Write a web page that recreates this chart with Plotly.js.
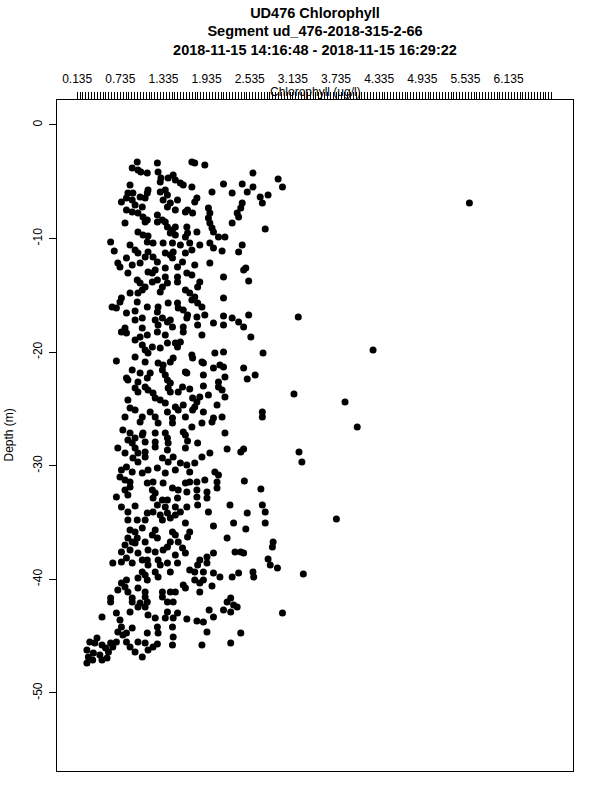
<!DOCTYPE html>
<html>
<head>
<meta charset="utf-8">
<script src="https://cdn.plot.ly/plotly-3.0.1.min.js"></script>
<style>html,body{margin:0;padding:0;background:#fff;}#chart{width:600px;height:800px;}</style>
</head>
<body>
<div id="chart"></div>
<script>
// ---- Data ----
const chlorophyll = [
// 3-10 m
0.97,0.90,0.98,1.02,1.11,1.25,1.26,1.30,1.29,1.47,1.50,1.57,1.61,1.73,1.77,1.91,1.40,1.73,2.58,2.93,
2.99,2.17,2.43,2.58,2.50,2.29,2.01,2.68,2.79,2.71,0.87,0.84,0.91,0.75,0.82,0.90,1.01,1.11,1.12,1.08,
0.94,1.04,0.82,0.90,0.80,0.98,1.05,1.08,1.11,1.25,1.29,1.36,1.39,1.33,1.43,1.39,1.53,1.50,1.64,1.67,
1.74,1.77,1.80,1.96,1.98,1.96,1.98,2.01,2.03,1.25,1.32,1.36,1.39,1.46,1.50,1.43,1.50,0.98,1.05,1.12,
1.66,1.80,1.67,1.64,2.43,2.41,2.36,2.38,2.29,2.75,2.10,2.19,5.59,
// 10-18 m
0.60,0.65,0.87,0.94,0.98,1.11,1.19,1.12,1.08,1.19,1.25,1.33,1.46,1.57,1.70,1.84,1.98,1.36,1.43,1.47,
1.46,1.64,1.73,1.60,1.53,1.77,1.98,2.03,2.15,2.38,2.43,2.48,2.45,2.52,2.17,2.17,0.70,0.73,0.82,0.90,
0.84,1.01,1.12,1.18,1.22,1.36,1.36,1.53,1.53,1.66,1.73,1.84,1.81,0.97,1.01,1.08,1.04,0.98,1.18,1.25,
1.32,1.29,1.39,0.87,0.75,0.73,0.97,1.11,0.62,0.68,0.82,0.94,1.04,1.26,1.25,1.22,1.32,1.39,1.43,1.26,
1.40,1.53,1.54,1.61,1.64,1.70,1.73,1.77,1.81,1.87,1.67,1.66,1.80,1.81,1.61,1.91,2.03,2.17,2.17,2.29,
2.38,2.45,2.52,3.21,0.94,0.80,1.04,1.46,
// 18-26 m
0.75,0.82,0.94,1.01,1.11,1.25,1.36,1.61,1.87,1.04,1.08,1.12,1.18,1.29,1.39,1.50,1.57,1.53,1.73,1.74,
1.87,1.89,2.05,2.17,2.55,2.72,1.47,1.43,1.33,1.26,0.94,0.68,1.08,0.90,1.01,0.82,0.84,0.98,1.11,1.15,
1.32,1.36,1.39,1.43,1.64,1.66,1.89,2.03,2.12,2.17,2.45,2.61,2.50,2.19,2.10,0.94,0.98,1.08,1.12,1.19,
1.40,1.43,1.60,1.54,1.70,1.89,2.10,2.15,2.19,1.96,1.84,1.74,1.80,0.84,1.22,1.29,1.36,1.50,1.54,1.61,
1.74,1.77,1.89,2.08,0.87,0.94,1.15,1.39,0.80,1.04,1.22,1.46,1.64,2.03,2.15,2.71,2.71,3.15,4.25,3.86,
4.03,
// 26-34 m
0.77,0.87,1.01,1.04,1.05,1.22,1.26,1.36,1.46,1.61,1.64,1.73,1.87,2.01,2.19,0.84,0.90,0.94,1.08,1.22,
1.39,1.40,1.67,1.81,0.70,0.80,0.94,0.98,1.08,1.22,1.39,1.64,1.87,1.98,2.22,2.41,2.45,0.91,0.98,1.08,
1.32,1.40,1.47,1.57,1.66,1.77,0.75,0.82,0.90,1.04,1.12,1.25,1.36,1.50,1.70,2.05,2.10,0.73,0.80,0.87,
1.11,1.19,1.33,1.64,1.70,1.80,1.91,2.08,2.46,0.80,0.87,1.18,1.22,1.46,1.54,1.66,1.80,1.94,2.08,2.69,
0.68,0.84,1.19,1.32,1.39,1.53,1.80,1.94,0.75,0.94,1.25,1.36,1.50,1.66,1.81,2.26,2.71,3.22,3.26,
// 34-42 m
0.84,1.11,1.19,1.29,1.39,1.50,1.57,1.96,2.50,2.75,0.84,0.97,1.08,1.32,1.43,1.64,2.03,2.31,2.48,2.75,
0.87,0.94,1.04,1.22,1.18,1.46,1.50,1.70,1.67,0.84,0.90,0.97,1.08,1.25,1.43,1.54,1.39,1.60,2.22,2.86,
2.85,0.80,0.94,0.75,0.87,0.98,1.12,1.22,1.33,1.50,1.64,1.94,2.03,2.33,2.41,2.45,0.63,0.75,0.82,0.90,
1.04,1.11,1.12,1.26,1.29,1.39,1.53,1.84,1.81,1.94,2.79,2.82,2.92,1.70,1.77,1.89,2.03,2.12,2.29,2.38,
2.58,2.59,1.04,1.08,1.22,1.26,1.43,0.98,1.11,0.82,0.75,0.70,0.80,0.84,0.98,1.08,1.32,1.43,1.50,1.64,
1.61,1.77,1.84,1.89,2.01,1.84,0.60,0.90,1.08,1.32,2.27,3.28,3.74,
// 42-48 m
0.60,0.90,1.01,1.11,1.39,1.47,2.22,2.31,2.36,0.48,0.68,0.73,0.87,0.98,1.08,1.12,1.22,1.39,1.53,1.36,
1.47,1.66,1.80,1.89,1.97,2.03,2.17,2.27,2.99,2.41,2.27,1.94,1.87,1.46,1.47,1.46,1.25,1.26,1.25,1.11,
1.08,1.12,1.04,0.94,0.87,0.82,0.77,0.70,0.75,0.68,0.63,0.57,0.55,0.45,0.48,0.38,0.41,0.31,0.27,0.29,
0.27,0.35,0.36,0.53,0.48,0.60,0.82,0.90,0.98,1.19
];
const depth = [
// 3-10 m
-3.26,-3.79,-3.96,-4.14,-4.23,-3.35,-4.14,-4.67,-5.02,-4.40,-4.84,-5.11,-5.28,-3.26,-3.35,-3.52,-4.67,-5.46,-4.23,-4.75,
-5.46,-5.19,-5.19,-5.46,-5.90,-5.99,-5.90,-6.34,-6.16,-6.87,-5.28,-5.99,-5.99,-6.78,-6.43,-6.60,-6.34,-5.99,-5.72,-6.43,
-7.04,-7.22,-7.48,-7.66,-8.63,-7.75,-8.10,-8.54,-8.36,-7.92,-5.90,-5.72,-6.16,-6.60,-6.87,-7.22,-6.60,-7.48,-7.66,-7.48,
-7.75,-6.78,-6.43,-7.31,-7.75,-8.19,-8.63,-9.07,-9.42,-8.54,-8.36,-8.54,-8.98,-9.24,-8.98,-9.51,-9.68,-9.42,-9.68,-9.77,
-8.98,-9.42,-9.51,-9.86,-6.87,-7.31,-7.75,-8.10,-8.63,-9.15,-9.86,-9.86,-6.87,
// 10-18 m
-10.30,-11.09,-10.56,-11.00,-11.27,-10.30,-10.39,-11.18,-11.62,-11.62,-12.06,-10.39,-10.39,-10.56,-10.39,-10.56,-10.39,-11.27,-11.44,-11.18,
-11.71,-11.27,-11.00,-12.06,-12.50,-12.32,-12.15,-10.83,-11.09,-11.18,-10.56,-12.59,-12.76,-13.73,-13.38,-15.23,-12.15,-12.50,-11.71,-12.32,
-13.03,-12.15,-12.94,-13.03,-12.76,-12.59,-13.38,-13.38,-13.82,-13.03,-13.20,-13.82,-14.26,-13.64,-13.91,-14.26,-14.52,-14.79,-13.82,-13.64,
-14.26,-14.70,-13.91,-14.79,-15.23,-15.58,-15.58,-16.02,-16.02,-16.11,-16.55,-16.37,-16.99,-16.02,-16.46,-17.17,-16.99,-17.34,-17.17,-17.61,
-15.67,-15.67,-16.11,-16.29,-14.52,-14.79,-15.40,-15.14,-15.67,-16.02,-16.73,-16.99,-16.90,-17.61,-17.78,-16.73,-17.43,-16.81,-17.61,-16.99,
-17.34,-17.78,-16.73,-16.90,-17.17,-17.87,-17.87,-17.78,
// 18-26 m
-18.22,-18.31,-18.93,-18.66,-18.49,-18.22,-18.49,-18.22,-18.49,-19.37,-19.81,-20.07,-19.54,-19.63,-19.19,-19.19,-19.10,-19.54,-20.25,-20.51,
-20.86,-20.95,-20.07,-19.98,-18.66,-20.07,-20.51,-20.86,-21.13,-20.95,-20.42,-20.77,-20.86,-21.57,-21.83,-22.27,-22.45,-22.62,-22.27,-21.83,
-21.57,-22.01,-22.45,-22.71,-21.74,-21.83,-22.01,-21.39,-21.13,-21.30,-21.39,-22.01,-22.36,-22.18,-22.62,-23.15,-23.50,-23.06,-23.33,-23.59,
-23.15,-23.50,-23.06,-23.50,-23.24,-22.98,-23.06,-23.33,-23.94,-23.77,-23.94,-24.03,-24.38,-24.21,-24.03,-24.21,-24.47,-24.82,-25.09,-24.65,
-25.09,-24.82,-25.26,-24.65,-24.91,-25.09,-25.26,-25.26,-25.70,-25.70,-25.70,-25.79,-25.70,-25.79,-25.70,-25.26,-25.70,-23.68,-19.81,-24.38,
-26.58,
// 26-34 m
-26.85,-27.11,-26.14,-27.29,-27.11,-27.11,-26.23,-27.11,-26.23,-27.02,-27.29,-26.58,-26.23,-26.14,-27.11,-27.73,-27.99,-27.55,-27.90,-27.90,
-27.55,-27.99,-27.82,-27.99,-28.43,-28.87,-28.43,-28.87,-28.78,-28.35,-28.61,-28.43,-29.23,-28.87,-28.52,-28.78,-28.52,-29.31,-29.67,-29.23,
-29.31,-29.67,-29.23,-29.75,-29.93,-29.75,-30.37,-30.11,-30.55,-30.63,-30.37,-30.19,-30.63,-30.37,-30.55,-30.55,-30.81,-30.99,-31.25,-31.43,
-31.51,-31.43,-31.51,-31.51,-31.43,-31.43,-31.25,-31.43,-31.34,-32.13,-31.87,-32.13,-32.39,-31.95,-32.13,-32.31,-32.13,-32.31,-31.95,-32.04,
-32.75,-32.57,-32.83,-33.01,-33.01,-32.83,-32.75,-32.83,-33.63,-33.54,-33.45,-33.63,-33.63,-33.63,-33.45,-33.45,-33.45,-28.78,-29.67,
// 34-42 m
-34.07,-34.15,-34.07,-34.33,-34.15,-34.33,-34.07,-34.07,-34.15,-34.07,-34.77,-34.77,-34.77,-34.77,-34.59,-35.04,-35.30,-35.04,-35.56,-35.04,
-35.65,-35.83,-35.48,-35.65,-36.09,-35.83,-36.09,-35.83,-36.27,-36.36,-36.71,-36.36,-36.71,-36.36,-36.71,-36.71,-37.15,-37.24,-36.36,-36.71,
-37.15,-36.97,-36.80,-37.59,-37.41,-37.68,-37.41,-37.59,-37.41,-37.85,-37.68,-38.03,-37.68,-37.59,-37.59,-37.68,-38.56,-38.47,-38.12,-38.56,
-38.29,-38.29,-38.73,-38.29,-38.73,-38.56,-38.56,-38.29,-38.73,-38.56,-38.20,-38.73,-39.00,-39.17,-39.35,-39.35,-39.44,-39.79,-39.79,-39.44,
-39.35,-39.79,-39.35,-39.61,-39.35,-39.79,-39.35,-39.88,-40.05,-40.05,-40.32,-40.93,-40.67,-41.11,-40.76,-41.11,-41.11,-41.11,-41.11,-40.76,
-40.49,-40.05,-40.32,-40.05,-40.58,-41.11,-41.64,-41.64,-41.55,-41.55,-41.64,-39.52,-34.68,
// 42-48 m
-41.99,-41.99,-42.08,-41.99,-41.99,-41.99,-41.99,-42.25,-42.43,-43.31,-42.96,-43.57,-42.87,-42.43,-42.43,-43.13,-43.40,-42.87,-42.96,-43.40,
-43.40,-43.49,-43.66,-43.75,-42.69,-43.31,-42.69,-42.87,-42.96,-44.72,-45.60,-44.63,-45.77,-44.19,-45.07,-45.77,-44.19,-44.72,-45.69,-44.72,
-45.60,-46.21,-46.83,-46.39,-45.95,-45.51,-44.89,-44.63,-44.19,-45.51,-45.95,-46.39,-46.92,-46.65,-47.10,-45.60,-45.16,-45.51,-46.21,-46.83,
-47.36,-47.10,-46.48,-46.04,-45.77,-45.60,-44.72,-44.28,-45.51,-45.95
];

// ---- Axis tick labels ----
const xTickLabels = ['0.135','0.735','1.335','1.935','2.535','3.135','3.735','4.335','4.935','5.535','6.135'];
const xMinorStart = 0.135, xMinorEnd = 6.735, xMinorStep = 0.04;
const yTickValues = [0, -10, -20, -30, -40, -50];
const yTickLabels = ['0', '-10', '-20', '-30', '-40', '-50'];

const titleLines = ['UD476 Chlorophyll', 'Segment ud_476-2018-315-2-66', '2018-11-15 14:16:48 - 2018-11-15 16:29:22'];
const xTitle = 'Chlorophyll (ug/l)';
const yTitle = 'Depth (m)';

// Build top-axis tick table (all small ticks, labels only at the major ones)
const xTickVals = [], xTickText = [];
const majorVals = xTickLabels.map(Number);
const nTicks = Math.round((xMinorEnd - xMinorStart) / xMinorStep);
for (let i = 0; i <= nTicks; i++) {
  const v = +(xMinorStart + i * xMinorStep).toFixed(4);
  xTickVals.push(v);
  const k = majorVals.findIndex(m => Math.abs(m - v) < 1e-6);
  xTickText.push(k >= 0 ? xTickLabels[k] : '');
}

const FONT = 'Liberation Sans, Arial, sans-serif';

const trace = {
  type: 'scatter',
  mode: 'markers',
  x: chlorophyll,
  y: depth,
  marker: { color: '#000', size: 7, line: { width: 0 } },
  hoverinfo: 'skip',
  cliponaxis: true
};

const layout = {
  width: 600, height: 800,
  margin: { l: 57, r: 27, t: 100, b: 29 },
  paper_bgcolor: '#fff', plot_bgcolor: '#fff',
  showlegend: false,
  font: { family: FONT, size: 12, color: '#000' },
  title: {
    text: titleLines.map(t => '<b>' + t + '</b>').join('<br>'),
    font: { family: FONT, size: 14.5, color: '#000' },
    x: 0.5, xref: 'paper', xanchor: 'center',
    y: 0.978, yref: 'container', yanchor: 'top'
  },
  xaxis: {
    side: 'top',
    range: [-0.146, 7.031],
    showgrid: false, zeroline: false,
    showline: true, mirror: true, linecolor: '#000', linewidth: 1,
    ticks: 'outside', ticklen: 7, tickwidth: 1, tickcolor: '#000',
    tickmode: 'array', tickvals: xTickVals, ticktext: xTickText,
    ticklabelstandoff: 4,
    tickfont: { family: FONT, size: 12, color: '#000' },
    automargin: false
  },
  yaxis: {
    range: [-56.87, 2.2],
    showgrid: false, zeroline: false,
    showline: true, mirror: true, linecolor: '#000', linewidth: 1,
    ticks: 'outside', ticklen: 7, tickwidth: 1, tickcolor: '#000',
    tickmode: 'array', tickvals: yTickValues, ticktext: yTickLabels,
    tickangle: -90,
    ticklabelstandoff: 2,
    tickfont: { family: FONT, size: 12, color: '#000' },
    automargin: false
  },
  annotations: [
    { text: xTitle, xref: 'paper', yref: 'paper', x: 0.5, y: (771 - 92) / 671,
      xanchor: 'center', yanchor: 'middle', showarrow: false,
      font: { family: FONT, size: 12, color: '#000' } },
    { text: yTitle, xref: 'paper', yref: 'paper', x: (8 - 57) / 516, y: 0.5,
      xanchor: 'center', yanchor: 'middle', textangle: -90, showarrow: false,
      font: { family: FONT, size: 12, color: '#000' } }
  ]
};

Plotly.newPlot('chart', [trace], layout, { staticPlot: true, displayModeBar: false });
</script>
</body>
</html>
